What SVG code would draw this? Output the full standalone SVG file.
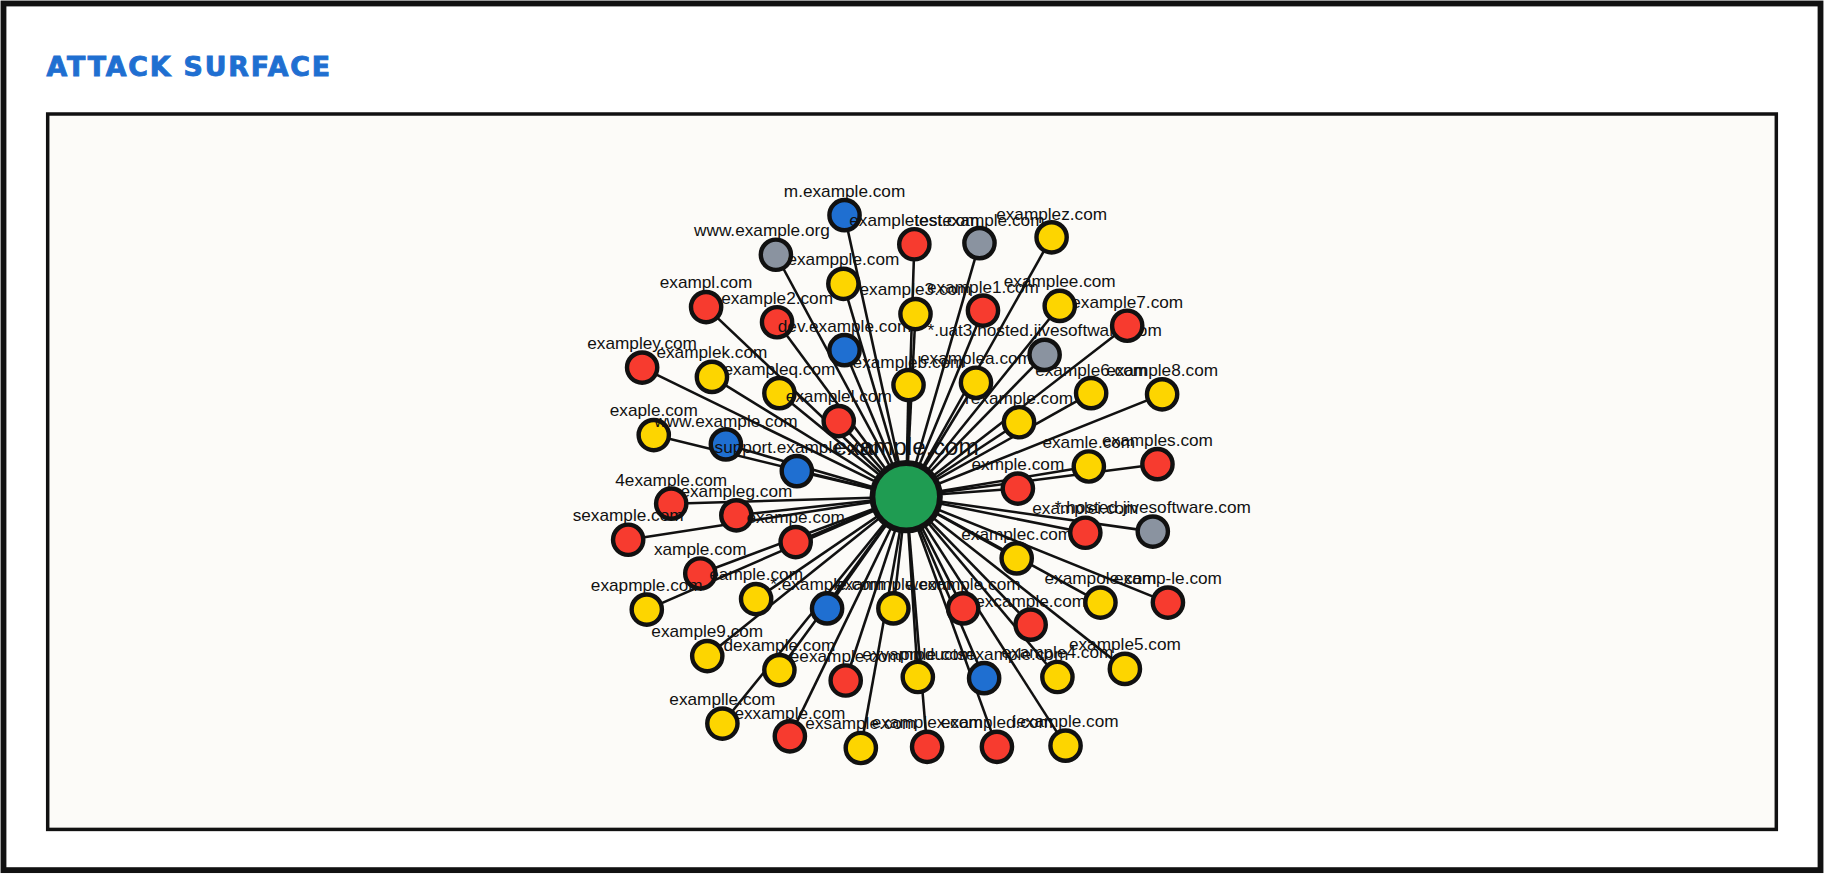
<svg xmlns="http://www.w3.org/2000/svg" width="1824" height="874" viewBox="0 0 1824 874">
<style>
.n{stroke:#111;stroke-width:3.8}
.r{fill:#f73b2f}.y{fill:#fdd500}.b{fill:#1f6fd1}.g{fill:#8a93a0}
text{font-family:"Liberation Sans",Arial,sans-serif;font-size:14.8px;fill:#111;text-anchor:middle}
#edges line{stroke:#111;stroke-width:2.2}
</style>
<rect x="0" y="0" width="1824" height="874" fill="#fff"/>
<g transform="scale(1.16327)">
<rect x="3" y="3" width="1562" height="745" fill="none" stroke="#111" stroke-width="5"/>
<text x="40" y="65" style="font-family:'DejaVu Sans',sans-serif;font-weight:900;font-size:23px;fill:#1f6fd1;text-anchor:start;letter-spacing:1.6px;stroke:#1f6fd1;stroke-width:0.8">ATTACK SURFACE</text>
<rect x="41" y="98" width="1486" height="615" fill="#fcfbf8" stroke="#111" stroke-width="3"/>
<g id="edges">
<line x1="779" y1="427" x2="726" y2="185"/><line x1="779" y1="427" x2="667" y2="219"/><line x1="779" y1="427" x2="725" y2="244"/><line x1="779" y1="427" x2="607" y2="264"/><line x1="779" y1="427" x2="668" y2="277"/><line x1="779" y1="427" x2="726" y2="301"/><line x1="779" y1="427" x2="552" y2="316"/><line x1="779" y1="427" x2="612" y2="324"/><line x1="779" y1="427" x2="670" y2="338"/><line x1="779" y1="427" x2="721" y2="362"/><line x1="779" y1="427" x2="562" y2="374"/><line x1="779" y1="427" x2="624" y2="382"/><line x1="779" y1="427" x2="685" y2="405"/><line x1="779" y1="427" x2="577" y2="433"/><line x1="779" y1="427" x2="633" y2="443"/><line x1="779" y1="427" x2="540" y2="464"/><line x1="779" y1="427" x2="684" y2="466"/><line x1="779" y1="427" x2="602" y2="493"/><line x1="779" y1="427" x2="556" y2="524"/><line x1="779" y1="427" x2="650" y2="515"/><line x1="779" y1="427" x2="608" y2="564"/><line x1="779" y1="427" x2="670" y2="576"/><line x1="779" y1="427" x2="621" y2="622"/><line x1="779" y1="427" x2="679" y2="633"/><line x1="779" y1="427" x2="711" y2="523"/><line x1="779" y1="427" x2="768" y2="523"/><line x1="779" y1="427" x2="828" y2="523"/><line x1="779" y1="427" x2="727" y2="585"/><line x1="779" y1="427" x2="789" y2="582"/><line x1="779" y1="427" x2="846" y2="583"/><line x1="779" y1="427" x2="909" y2="582"/><line x1="779" y1="427" x2="967" y2="575"/><line x1="779" y1="427" x2="740" y2="643"/><line x1="779" y1="427" x2="797" y2="642"/><line x1="779" y1="427" x2="857" y2="642"/><line x1="779" y1="427" x2="916" y2="641"/><line x1="779" y1="427" x2="886" y2="537"/><line x1="779" y1="427" x2="946" y2="518"/><line x1="779" y1="427" x2="1004" y2="518"/><line x1="779" y1="427" x2="874" y2="480"/><line x1="779" y1="427" x2="933" y2="458"/><line x1="779" y1="427" x2="991" y2="457"/><line x1="779" y1="427" x2="875" y2="420"/><line x1="779" y1="427" x2="936" y2="401"/><line x1="779" y1="427" x2="995" y2="399"/><line x1="779" y1="427" x2="876" y2="363"/><line x1="779" y1="427" x2="938" y2="338"/><line x1="779" y1="427" x2="999" y2="339"/><line x1="779" y1="427" x2="898" y2="305"/><line x1="779" y1="427" x2="969" y2="280"/><line x1="779" y1="427" x2="911" y2="263"/><line x1="779" y1="427" x2="904" y2="204"/><line x1="779" y1="427" x2="839" y2="329"/><line x1="779" y1="427" x2="781" y2="331"/><line x1="779" y1="427" x2="787" y2="270"/><line x1="779" y1="427" x2="845" y2="267"/><line x1="779" y1="427" x2="786" y2="210"/><line x1="779" y1="427" x2="842" y2="209"/>
</g>
<g id="n1"><circle class="n b" cx="726" cy="185" r="13"/><text x="726" y="169">m.example.com</text></g>
<g id="n2"><circle class="n g" cx="667" cy="219" r="13"/><text x="655" y="203">www.example.org</text></g>
<g id="n3"><circle class="n y" cx="725" cy="244" r="13"/><text x="725" y="228">exampple.com</text></g>
<g id="n4"><circle class="n r" cx="607" cy="264" r="13"/><text x="607" y="248">exampl.com</text></g>
<g id="n5"><circle class="n r" cx="668" cy="277" r="13"/><text x="668" y="261">example2.com</text></g>
<g id="n6"><circle class="n b" cx="726" cy="301" r="13"/><text x="726" y="285">dev.example.com</text></g>
<g id="n7"><circle class="n r" cx="552" cy="316" r="13"/><text x="552" y="300">exampley.com</text></g>
<g id="n8"><circle class="n y" cx="612" cy="324" r="13"/><text x="612" y="308">examplek.com</text></g>
<g id="n9"><circle class="n y" cx="670" cy="338" r="13"/><text x="670" y="322">exampleq.com</text></g>
<g id="n10"><circle class="n r" cx="721" cy="362" r="13"/><text x="721" y="346">examplel.com</text></g>
<g id="n11"><circle class="n y" cx="562" cy="374" r="13"/><text x="562" y="358">exaple.com</text></g>
<g id="n12"><circle class="n b" cx="624" cy="382" r="13"/><text x="624" y="367">www.example.com</text></g>
<g id="n13"><circle class="n b" cx="685" cy="405" r="13"/><text x="685" y="389">support.example.com</text></g>
<g id="n14"><circle class="n r" cx="577" cy="433" r="13"/><text x="577" y="418">4example.com</text></g>
<g id="n15"><circle class="n r" cx="633" cy="443" r="13"/><text x="633" y="427">exampleg.com</text></g>
<g id="n16"><circle class="n r" cx="540" cy="464" r="13"/><text x="540" y="448">sexample.com</text></g>
<g id="n17"><circle class="n r" cx="684" cy="466" r="13"/><text x="684" y="450">exampe.com</text></g>
<g id="n18"><circle class="n r" cx="602" cy="493" r="13"/><text x="602" y="477">xample.com</text></g>
<g id="n19"><circle class="n y" cx="556" cy="524" r="13"/><text x="556" y="508">exapmple.com</text></g>
<g id="n20"><circle class="n y" cx="650" cy="515" r="13"/><text x="650" y="499">eample.com</text></g>
<g id="n21"><circle class="n y" cx="608" cy="564" r="13"/><text x="608" y="548">example9.com</text></g>
<g id="n22"><circle class="n y" cx="670" cy="576" r="13"/><text x="670" y="560">dexample.com</text></g>
<g id="n23"><circle class="n y" cx="621" cy="622" r="13"/><text x="621" y="606">examplle.com</text></g>
<g id="n24"><circle class="n r" cx="679" cy="633" r="13"/><text x="679" y="618">exxample.com</text></g>
<g id="n25"><circle class="n b" cx="711" cy="523" r="13"/><text x="711" y="507">*.example.com</text></g>
<g id="n26"><circle class="n y" cx="768" cy="523" r="13"/><text x="768" y="507">exammple.com</text></g>
<g id="n27"><circle class="n r" cx="828" cy="523" r="13"/><text x="828" y="507">wexample.com</text></g>
<g id="n28"><circle class="n r" cx="727" cy="585" r="13"/><text x="727" y="569">eexample.com</text></g>
<g id="n29"><circle class="n y" cx="789" cy="582" r="13"/><text x="789" y="567">exvample.com</text></g>
<g id="n30"><circle class="n b" cx="846" cy="583" r="13"/><text x="846" y="567">productsexample.com</text></g>
<g id="n31"><circle class="n y" cx="909" cy="582" r="13"/><text x="909" y="566">example4.com</text></g>
<g id="n32"><circle class="n y" cx="967" cy="575" r="13"/><text x="967" y="559">example5.com</text></g>
<g id="n33"><circle class="n y" cx="740" cy="643" r="13"/><text x="740" y="627">exsample.com</text></g>
<g id="n34"><circle class="n r" cx="797" cy="642" r="13"/><text x="797" y="626">examplex.com</text></g>
<g id="n35"><circle class="n r" cx="857" cy="642" r="13"/><text x="857" y="626">exampled.com</text></g>
<g id="n36"><circle class="n y" cx="916" cy="641" r="13"/><text x="916" y="625">iexample.com</text></g>
<g id="n37"><circle class="n r" cx="886" cy="537" r="13"/><text x="886" y="522">excample.com</text></g>
<g id="n38"><circle class="n y" cx="946" cy="518" r="13"/><text x="946" y="502">exampole.com</text></g>
<g id="n39"><circle class="n r" cx="1004" cy="518" r="13"/><text x="1004" y="502">examp-le.com</text></g>
<g id="n40"><circle class="n y" cx="874" cy="480" r="13"/><text x="874" y="464">examplec.com</text></g>
<g id="n41"><circle class="n r" cx="933" cy="458" r="13"/><text x="933" y="442">examplei.com</text></g>
<g id="n42"><circle class="n g" cx="991" cy="457" r="13"/><text x="991" y="441">*.hosted.jivesoftware.com</text></g>
<g id="n43"><circle class="n r" cx="875" cy="420" r="13"/><text x="875" y="404">exmple.com</text></g>
<g id="n44"><circle class="n y" cx="936" cy="401" r="13"/><text x="936" y="385">examle.com</text></g>
<g id="n45"><circle class="n r" cx="995" cy="399" r="13"/><text x="995" y="383">examples.com</text></g>
<g id="n46"><circle class="n y" cx="876" cy="363" r="13"/><text x="876" y="347">rexample.com</text></g>
<g id="n47"><circle class="n y" cx="938" cy="338" r="13"/><text x="938" y="323">example6.com</text></g>
<g id="n48"><circle class="n y" cx="999" cy="339" r="13"/><text x="999" y="323">example8.com</text></g>
<g id="n49"><circle class="n g" cx="898" cy="305" r="13"/><text x="898" y="289">*.uat3.hosted.jivesoftware.com</text></g>
<g id="n50"><circle class="n r" cx="969" cy="280" r="13"/><text x="969" y="265">example7.com</text></g>
<g id="n51"><circle class="n y" cx="911" cy="263" r="13"/><text x="911" y="247">examplee.com</text></g>
<g id="n52"><circle class="n y" cx="904" cy="204" r="13"/><text x="904" y="189">examplez.com</text></g>
<g id="n53"><circle class="n y" cx="839" cy="329" r="13"/><text x="839" y="313">examplea.com</text></g>
<g id="n54"><circle class="n y" cx="781" cy="331" r="13"/><text x="781" y="316">exampleb.com</text></g>
<g id="n55"><circle class="n y" cx="787" cy="270" r="13"/><text x="787" y="254">example3.com</text></g>
<g id="n56"><circle class="n r" cx="845" cy="267" r="13"/><text x="845" y="252">example1.com</text></g>
<g id="n57"><circle class="n r" cx="786" cy="210" r="13"/><text x="786" y="194">exampletest.com</text></g>
<g id="n58"><circle class="n g" cx="842" cy="209" r="13"/><text x="842" y="194">testexample.com</text></g>
<g id="center"><circle cx="779" cy="427" r="29" fill="#1f9c52" stroke="#111" stroke-width="5"/><text x="779" y="391" style="font-size:21px">example.com</text></g>
</g>
</svg>
